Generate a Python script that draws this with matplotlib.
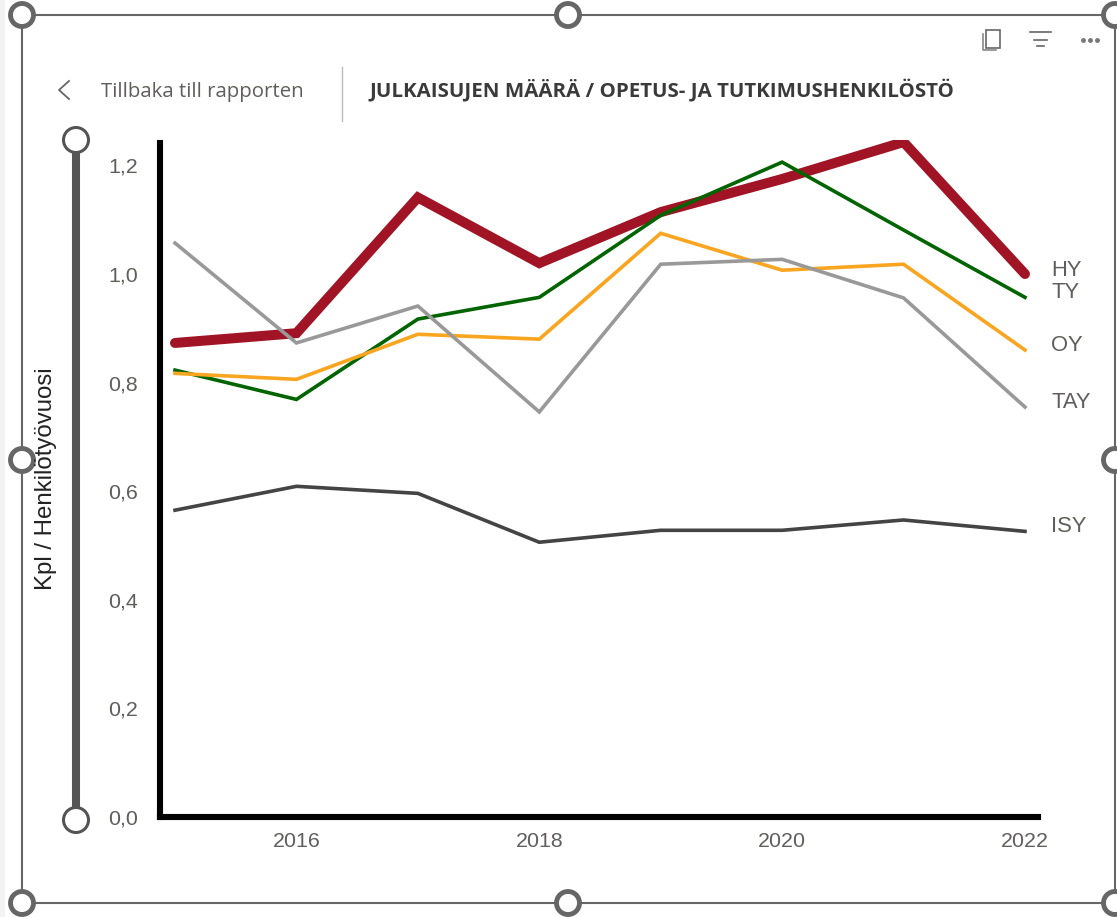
import matplotlib
matplotlib.use("Agg")
import matplotlib.pyplot as plt
from matplotlib.patches import Circle, Rectangle

# Data
years = [2015, 2016, 2017, 2018, 2019, 2020, 2021, 2022]
hy = [0.873, 0.891, 1.141, 1.020, 1.114, 1.175, 1.243, 1.000]
ty = [0.823, 0.769, 0.917, 0.957, 1.108, 1.206, 1.081, 0.957]
oy = [0.817, 0.806, 0.889, 0.880, 1.075, 1.007, 1.018, 0.860]
tay = [1.057, 0.873, 0.941, 0.746, 1.018, 1.027, 0.956, 0.755]
isy = [0.565, 0.609, 0.596, 0.506, 0.528, 0.528, 0.547, 0.526]
x_ticks = [2016, 2018, 2020, 2022]
y_ticks = [0.0, 0.2, 0.4, 0.6, 0.8, 1.0, 1.2]
y_labels = ["0,0", "0,2", "0,4", "0,6", "0,8", "1,0", "1,2"]

W, H = 1117, 917
fig = plt.figure(figsize=(W / 100, H / 100), dpi=100)
plt.rcParams['font.family'] = ['Liberation Sans', 'DejaVu Sans']

# Plot area, placed in pixels
left, right, top, bottom = 160, 1041, 140, 817
ax = fig.add_axes([left / W, 1 - bottom / H, (right - left) / W, (bottom - top) / H])
xmin, xmax = 2015 - 15 / 121.3, 2022 + 16 / 121.3
ymax = (bottom - top) / 543
ax.set_xlim(xmin, xmax)
ax.set_ylim(0, ymax)

# HY sits under the thin lines
ax.plot(years, hy, color='#a01426', lw=7.2, solid_capstyle='round', solid_joinstyle='miter')
ax.plot(years, isy, color='#444444', lw=2.6, solid_joinstyle='miter')
ax.plot(years, ty, color='#006400', lw=2.6, solid_joinstyle='miter')
ax.plot(years, oy, color='#f9a51f', lw=2.6, solid_joinstyle='miter')
ax.plot(years, tay, color='#999999', lw=2.6, solid_joinstyle='miter')

for s in ['top', 'right']:
    ax.spines[s].set_visible(False)
for s in ['left', 'bottom']:
    ax.spines[s].set_linewidth(4.4)
    ax.spines[s].set_color('black')
# spines have projecting caps, so pull the ends back by 3 px
ax.spines['left'].set_bounds(0, ymax - 3 / 543)
ax.spines['bottom'].set_bounds(xmin, xmax - 3 / 121.3)

ax.set_xticks(x_ticks)
ax.set_yticks(y_ticks)
ax.set_yticklabels(y_labels)
ax.tick_params(axis='both', length=0, labelsize=15.4, labelcolor='#605e5c')
ax.tick_params(axis='x', pad=10.5)
ax.tick_params(axis='y', pad=16)

# Series names at the right end
for name, vals, dy in [('HY', hy, -4), ('TY', ty, -5), ('OY', oy, -5), ('TAY', tay, -5), ('ISY', isy, -5)]:
    ax.annotate(name, (2022, vals[-1]), xytext=(19, dy * -0.72), textcoords='offset points',
                fontsize=15.8, color='#605e5c', va='center', annotation_clip=False)

# Report chrome drawn in pixel coordinates
ov = fig.add_axes([0, 0, 1, 1], zorder=5)
ov.set_xlim(0, W)
ov.set_ylim(H, 0)
ov.axis('off')
ov.patch.set_alpha(0)

ov.add_patch(Rectangle((0, 0), 5, H, color='#f3f3f3', lw=0))
ov.add_patch(Rectangle((22, 15), 1093, 888, fill=False, ec='#666666', lw=1.5))
for hx, hy_px in [(22, 15), (568, 15), (1115, 15), (22, 460), (1115, 460), (22, 903), (568, 903), (1115, 903)]:
    ov.add_patch(Circle((hx, hy_px), 11.5, fc='white', ec='#666666', lw=3.5))

ov.plot([76, 76], [140, 820], color='#555555', lw=5.8, solid_capstyle='butt', zorder=3)
for cy in [140, 820]:
    ov.add_patch(Circle((76, cy), 12.5, fc='white', ec='#555555', lw=2.2, zorder=4))

ov.text(46, 479, 'Kpl / Henkilötyövuosi', rotation=90, fontsize=17.3, color='#222222',
        ha='center', va='center')

ov.plot([69, 59, 69], [81, 90, 99], color='#666666', lw=1.3)
ov.text(101, 91.5, 'Tillbaka till rapporten', fontsize=14.7, color='#605e5c', va='center',
        family='Open Sans')
ov.plot([342, 342], [67, 121], color='#bbbbbb', lw=1)
ov.text(369, 90.5, 'JULKAISUJEN MÄÄRÄ / OPETUS- JA TUTKIMUSHENKILÖSTÖ', fontsize=14.75,
        color='#3a3a3a', va='center', weight='bold', family='Open Sans')

# Small header icons
ov.add_patch(Rectangle((986, 30), 14, 18, fc='white', ec='#666666', lw=1.2, zorder=3))
ov.plot([983, 983, 996], [34, 50, 50], color='#888888', lw=1.2)
for y0, x0, x1 in [(32, 1030, 1051), (40, 1034, 1047), (46, 1037, 1044)]:
    ov.plot([x0, x1], [y0, y0], color='#666666', lw=1.2)
ov.plot([1083, 1090, 1097], [40, 40, 40], ls='none', marker='o', ms=2.5, color='#777777')

fig.savefig('out.png', dpi=100)
